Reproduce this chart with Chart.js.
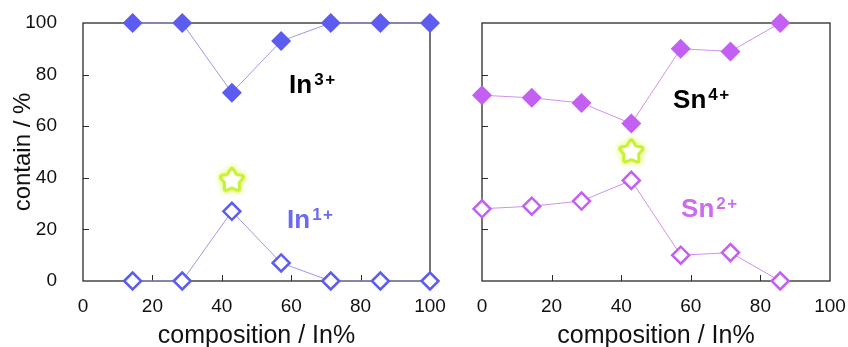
<!DOCTYPE html>
<html><head><meta charset="utf-8">
<script src="https://cdn.jsdelivr.net/npm/chart.js@4"></script>
<style>
html,body{margin:0;padding:0;background:#fff;overflow:hidden}
#wrap{position:relative;width:848px;height:347px;background:#fff}
canvas{position:absolute;top:0}
#c1{left:0}
#c2{left:440px}
</style></head><body>
<div id="wrap"><canvas id="c2" width="408" height="347"></canvas><canvas id="c1" width="460" height="347"></canvas></div>
<script>
// ---- data ----
const inX = [14.3, 28.6, 42.9, 57.1, 71.4, 85.7, 100];
const in3 = [100, 100, 73, 93, 100, 100, 100];
const in1 = [0, 0, 27, 7, 0, 0, 0];
const snX = [0, 14.3, 28.6, 42.9, 57.1, 71.4, 85.7];
const sn4 = [72, 71, 69, 61, 90, 89, 100];
const sn2 = [28, 29, 31, 39, 10, 11, 0];
const starInX = [42.9], starInY = [39];
const starSnX = [42.9], starSnY = [50];
const xTickVals = [0, 20, 40, 60, 80, 100];
const yTickVals = [0, 20, 40, 60, 80, 100];
const innerTickVals = [20, 40, 60, 80];
const xTitle = 'composition / In%';
const yTitle = 'contain / %';

const FONT = "'Liberation Sans', Arial, sans-serif";
const pts = (xs, ys) => xs.map((x, i) => ({x: x, y: ys[i]}));

function makeStar() {
  const c = document.createElement('canvas');
  c.width = 40; c.height = 40;
  const g = c.getContext('2d');
  const cx = 20, cy = 20, R = 10.5, r = 6;
  g.beginPath();
  for (let i = 0; i < 10; i++) {
    const a = -Math.PI / 2 + i * Math.PI / 5;
    const rr = i % 2 ? r : R;
    g.lineTo(cx + rr * Math.cos(a), cy + rr * Math.sin(a));
  }
  g.closePath();
  g.lineJoin = 'round';
  g.shadowColor = '#e8ff90';
  g.shadowBlur = 6;
  g.strokeStyle = '#c8f034';
  g.lineWidth = 6;
  g.stroke();
  g.stroke();
  g.shadowBlur = 0;
  g.fillStyle = '#ffffff';
  g.fill();
  return c;
}
const starImg = makeStar();

function framePlugin(tickX, tickY) {
  return {
    id: 'frame',
    beforeDatasetsDraw(chart) {
      const {ctx, chartArea: a, scales} = chart;
      ctx.save();
      ctx.strokeStyle = '#2a2a2a';
      ctx.lineWidth = 1.3;
      ctx.strokeRect(a.left, a.top, a.right - a.left, a.bottom - a.top);
      ctx.lineWidth = 1;
      ctx.beginPath();
      tickX.forEach(v => {
        const px = Math.round(scales.x.getPixelForValue(v)) + 0.5;
        ctx.moveTo(px, a.bottom); ctx.lineTo(px, a.bottom - 6);
      });
      tickY.forEach(v => {
        const py = Math.round(scales.y.getPixelForValue(v)) + 0.5;
        ctx.moveTo(a.left, py); ctx.lineTo(a.left + 6, py);
      });
      ctx.stroke();
      ctx.restore();
    }
  };
}

function annPlugin(anns) {
  return {
    id: 'ann',
    afterDatasetsDraw(chart) {
      const {ctx, scales} = chart;
      ctx.save();
      ctx.textBaseline = 'alphabetic';
      ctx.textAlign = 'left';
      anns.forEach(an => {
        const px = scales.x.getPixelForValue(an.x);
        const py = scales.y.getPixelForValue(an.y);
        ctx.fillStyle = an.color;
        ctx.font = 'bold 26px ' + FONT;
        ctx.fillText(an.base, px, py);
        const w = ctx.measureText(an.base).width;
        ctx.font = 'bold 17px ' + FONT;
        let sx = px + w + 2;
        for (const ch of an.sup) {
          ctx.fillText(ch, sx, py - 8);
          sx += ctx.measureText(ch).width + 1.5;
        }
      });
      ctx.restore();
    }
  };
}

function xScale() {
  return {
    type: 'linear', min: 0, max: 100,
    afterBuildTicks: s => { s.ticks = xTickVals.map(v => ({value: v})); },
    afterFit: s => { s.height = 66; s.paddingLeft = 0; s.paddingRight = 0; },
    ticks: {font: {size: 19, family: FONT}, color: '#111', padding: 6, maxRotation: 0, autoSkip: false},
    grid: {display: false},
    border: {display: false},
    title: {display: true, text: xTitle, color: '#111', font: {size: 25, family: FONT, lineHeight: 1}, padding: {top: 0, bottom: -2}}
  };
}

function makeChart(id, datasets, yShowLabels, yWidth, padRight, anns) {
  const y = {
    type: 'linear', min: 0, max: 100,
    afterBuildTicks: s => { s.ticks = yTickVals.map(v => ({value: v})); },
    afterFit: s => { s.width = yWidth; s.paddingTop = 0; s.paddingBottom = 0; },
    ticks: {display: yShowLabels, font: {size: 19, family: FONT}, color: '#111', padding: 18},
    grid: {display: false},
    border: {display: false},
    title: {display: yShowLabels, text: yTitle, color: '#111', font: {size: 24, family: FONT, lineHeight: 1}, padding: {top: 11, bottom: 0}}
  };
  return new Chart(document.getElementById(id), {
    type: 'line',
    data: {datasets: datasets},
    options: {
      responsive: false, animation: false, devicePixelRatio: 1,
      layout: {padding: {top: 23, right: padRight, left: 0, bottom: 0}},
      plugins: {legend: {display: false}, tooltip: {enabled: false}},
      scales: {x: xScale(), y: y}
    },
    plugins: [framePlugin(innerTickVals, innerTickVals), annPlugin(anns)]
  });
}

function filled(data, color, line) {
  return {data: data, borderColor: line, borderWidth: 1, backgroundColor: color,
    pointStyle: 'rectRot', pointRadius: 10, pointBackgroundColor: color, pointBorderColor: color,
    pointBorderWidth: 0, tension: 0, clip: false};
}
function open(data, color, line) {
  return {data: data, borderColor: line, borderWidth: 1, backgroundColor: '#fff',
    pointStyle: 'rectRot', pointRadius: 8.5, pointBackgroundColor: '#fff', pointBorderColor: color,
    pointBorderWidth: 2.5, tension: 0, clip: false};
}
function star(data) {
  return {data: data, showLine: false, pointStyle: starImg, pointRadius: 12, clip: false};
}

const inColor = '#5c5cf0', inLine = '#9a9ae6';
const snColor = '#c35ff2', snLine = '#cf90ee';

makeChart('c1', [
  star(pts(starInX, starInY)),
  filled(pts(inX, in3), inColor, inLine),
  open(pts(inX, in1), inColor, inLine)
], true, 83, 30, [
  {base: 'In', sup: '3+', x: 59.4, y: 72.9, color: '#000'},
  {base: 'In', sup: '1+', x: 58.8, y: 20.5, color: '#6b6bef'}
]);

makeChart('c2', [
  star(pts(starSnX, starSnY)),
  filled(pts(snX, sn4), snColor, snLine),
  open(pts(snX, sn2), snColor, snLine)
], false, 42, 18, [
  {base: 'Sn', sup: '4+', x: 54.9, y: 67.1, color: '#000'},
  {base: 'Sn', sup: '2+', x: 57.2, y: 24.8, color: '#cc6cf0'}
]);
</script>
</body></html>
